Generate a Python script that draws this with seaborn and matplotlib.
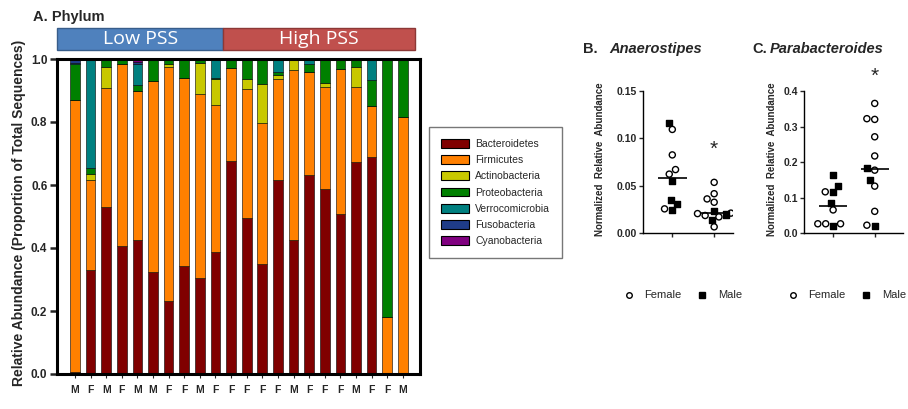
import numpy as np
import pandas as pd
import seaborn as sns
import matplotlib.pyplot as plt
from matplotlib.patches import Patch, Rectangle
from matplotlib.lines import Line2D
from matplotlib.markers import MarkerStyle
from matplotlib import transforms

# ---- panel A: phylum composition per sample ----
sex = ['M', 'F', 'M', 'F', 'M', 'M', 'F', 'F', 'M', 'F',
       'F', 'F', 'F', 'F', 'M', 'F', 'F', 'F', 'M', 'F', 'F', 'M']
pss = ['Low PSS'] * 10 + ['High PSS'] * 12

bacteroidetes = [0.005, 0.33, 0.53, 0.405, 0.425, 0.325, 0.233, 0.343, 0.305, 0.387,
                 0.675, 0.494, 0.349, 0.616, 0.425, 0.631, 0.586, 0.508, 0.674, 0.69, 0.0, 0.0]
firmicutes = [0.865, 0.285, 0.377, 0.58, 0.475, 0.605, 0.742, 0.597, 0.585, 0.468,
              0.296, 0.41, 0.448, 0.322, 0.541, 0.329, 0.326, 0.46, 0.237, 0.16, 0.182, 0.815]
actinobacteria = [0.0, 0.02, 0.068, 0.0, 0.0, 0.0, 0.008, 0.0, 0.097, 0.08,
                  0.0, 0.032, 0.123, 0.012, 0.034, 0.0, 0.013, 0.0, 0.064, 0.0, 0.0, 0.0]
proteobacteria = [0.115, 0.02, 0.025, 0.015, 0.018, 0.07, 0.017, 0.06, 0.013, 0.005,
                  0.029, 0.064, 0.08, 0.01, 0.0, 0.023, 0.075, 0.032, 0.025, 0.083, 0.818, 0.185]
verrucomicrobia = [0.003, 0.345, 0.0, 0.0, 0.067, 0.0, 0.0, 0.0, 0.0, 0.06,
                   0.0, 0.0, 0.0, 0.04, 0.0, 0.017, 0.0, 0.0, 0.0, 0.067, 0.0, 0.0]
fusobacteria = [0.012, 0.0, 0.0, 0.0, 0.005, 0.0, 0.0, 0.0, 0.0, 0.0,
                0.0, 0.0, 0.0, 0.0, 0.0, 0.0, 0.0, 0.0, 0.0, 0.0, 0.0, 0.0]
cyanobacteria = [0.0, 0.0, 0.0, 0.0, 0.01, 0.0, 0.0, 0.0, 0.0, 0.0,
                 0.0, 0.0, 0.0, 0.0, 0.0, 0.0, 0.0, 0.0, 0.0, 0.0, 0.0, 0.0]

phyla = ['Bacteroidetes', 'Firmicutes', 'Actinobacteria', 'Proteobacteria',
         'Verrocomicrobia', 'Fusobacteria', 'Cyanobacteria']
phylum_colors = ['#800000', '#FF8000', '#C8C800', '#008000', '#008080', '#1F3C88', '#800080']

# ---- panels B and C: genus abundance by PSS group ----
anaero_low = [0.1164, 0.1094, 0.0825, 0.067, 0.0622, 0.0549, 0.035, 0.0304, 0.0255, 0.0241]
anaero_low_sex = ['Male', 'Female', 'Female', 'Female', 'Female', 'Male', 'Male', 'Male', 'Female', 'Male']
anaero_high = [0.0535, 0.0415, 0.036, 0.0325, 0.0235, 0.021, 0.0205, 0.0195, 0.0185, 0.014, 0.017, 0.0065]
anaero_high_sex = ['Female', 'Female', 'Female', 'Female', 'Male', 'Female', 'Female', 'Male', 'Female', 'Male', 'Female', 'Female']

parab_low = [0.163, 0.132, 0.116, 0.116, 0.085, 0.065, 0.026, 0.026, 0.026, 0.019]
parab_low_sex = ['Male', 'Male', 'Male', 'Female', 'Male', 'Female', 'Female', 'Female', 'Female', 'Male']
parab_high = [0.365, 0.32, 0.322, 0.271, 0.217, 0.177, 0.184, 0.149, 0.132, 0.061, 0.022, 0.020]
parab_high_sex = ['Female', 'Female', 'Female', 'Female', 'Female', 'Female', 'Male', 'Male', 'Female', 'Female', 'Female', 'Male']

sns.set_theme(style='ticks')
plt.rcParams['font.family'] = ['Liberation Sans', 'DejaVu Sans']

fig = plt.figure(figsize=(9.08, 4.09), dpi=100)

# ---------------- Panel A ----------------
ax = fig.add_axes([57 / 908, 35 / 409, 363 / 908, 315 / 409])
rows = []
for name, vals in zip(phyla, [bacteroidetes, firmicutes, actinobacteria, proteobacteria,
                              verrucomicrobia, fusobacteria, cyanobacteria]):
    for i, v in enumerate(vals):
        rows.append((i, name, v))
df = pd.DataFrame(rows, columns=['sample', 'phylum', 'abund'])
sns.histplot(data=df, x='sample', weights='abund', hue='phylum', hue_order=phyla[::-1],
             palette=dict(zip(phyla, phylum_colors)), multiple='stack', discrete=True,
             shrink=0.62, edgecolor='black', linewidth=0.4, alpha=1, legend=False, ax=ax)
n = len(sex)
ax.set_xlim(-1.15, n + 0.1)
ax.set_ylim(0, 1)
ax.set_yticks([0, 0.2, 0.4, 0.6, 0.8, 1.0])
ax.set_yticklabels(['0.0', '0.2', '0.4', '0.6', '0.8', '1.0'])
ax.set_xticks(range(n))
ax.set_xticklabels(sex)
ax.set_xlabel('')
ax.set_ylabel('Relative Abundance (Proportion of Total Sequences)', fontsize=10, fontweight='bold')
ax.yaxis.set_label_coords(-0.085, 0.51)
for s in ax.spines.values():
    s.set_linewidth(2.2)
    s.set_color('black')
ax.tick_params(axis='y', length=5, width=1.8, labelsize=8.5, pad=2)
ax.tick_params(axis='x', length=3, width=0.8, labelsize=7.5, pad=5)
plt.setp(ax.get_yticklabels(), fontweight='bold')
plt.setp(ax.get_xticklabels(), fontweight='bold')

# PSS header boxes
trans = transforms.blended_transform_factory(ax.transData, ax.transAxes)
n_low = pss.count('Low PSS')
headers = [('Low PSS', -1.15, n_low - 0.5, '#4F81BD', '#385D8A'),
           ('High PSS', n_low - 0.5, n - 0.23, '#C0504D', '#8C3836')]
for label, x0, x1, fc, ec in headers:
    ax.add_patch(Rectangle((x0, 1.029), x1 - x0, 0.069, transform=trans, clip_on=False,
                           facecolor=fc, edgecolor=ec, linewidth=1))
    ax.text((x0 + x1) / 2, 1.063, label, transform=trans, ha='center', va='center',
            color='white', fontsize=14, family=['Open Sans', 'DejaVu Sans'])

fig.text(33 / 908, 0.958, 'A. Phylum', fontsize=10.5, fontweight='bold', va='center')

handles = [Patch(facecolor=c, edgecolor='black', linewidth=0.8, label=p)
           for p, c in zip(phyla, phylum_colors)]
fig.legend(handles=handles, loc='center', bbox_to_anchor=(0.5457, 0.529), frameon=True,
           fancybox=False, edgecolor='#555555', fontsize=7.5, handlelength=2.7,
           handleheight=0.9, labelspacing=0.6, borderpad=1.1, handletextpad=0.6)


# ---------------- Panels B and C ----------------
circ = MarkerStyle('o')
sq = MarkerStyle('s')
circ_path = circ.get_path().transformed(circ.get_transform())
sq_path = sq.get_path().transformed(sq.get_transform())


def scatter_panel(ax, low, low_sex, high, high_sex, ymax, yticks, fmt, star_y, xright, ylx, legx):
    d = pd.DataFrame({'group': ['Low'] * len(low) + ['High'] * len(high),
                      'value': low + high, 'sex': low_sex + high_sex})
    sns.swarmplot(data=d, x='group', y='value', hue='sex', order=['Low', 'High'],
                  hue_order=['Female', 'Male'], palette={'Female': 'white', 'Male': 'black'},
                  size=4.4, edgecolor='black', linewidth=1, legend=False, ax=ax)
    for coll in ax.collections:
        fc = coll.get_facecolors()
        coll.set_paths([circ_path if f[0] > 0.5 else sq_path for f in fc])
    for i, vals in enumerate([low, high]):
        ax.hlines(np.median(vals), i - 0.34, i + 0.34, color='black', lw=1.2, zorder=5)
    ax.text(1, star_y, '*', ha='center', va='center', fontsize=15, clip_on=False)
    ax.set_xlim(-0.7, xright)
    ax.set_ylim(0, ymax)
    ax.set_yticks(yticks)
    ax.set_yticklabels([fmt.format(t) for t in yticks])
    ax.set_xticks([0, 1])
    ax.set_xticklabels(['', ''])
    ax.set_xlabel('')
    ax.set_ylabel('Normalized  Relative  Abundance', fontsize=7, fontweight='bold')
    ax.yaxis.set_label_coords(ylx, 0.52)
    sns.despine(ax=ax)
    for s in ['left', 'bottom']:
        ax.spines[s].set_linewidth(1)
        ax.spines[s].set_color('black')
    ax.tick_params(length=3, width=1, labelsize=7.5, pad=1.5)
    plt.setp(ax.get_yticklabels(), fontweight='bold')
    leg_handles = [Line2D([], [], marker='o', ls='', markerfacecolor='white', markeredgecolor='black',
                          markeredgewidth=1, markersize=4, label='Female'),
                   Line2D([], [], marker='s', ls='', markerfacecolor='black', markeredgecolor='black',
                          markersize=4, label='Male')]
    ax.legend(handles=leg_handles, loc='center', bbox_to_anchor=(legx, -0.44), ncol=2,
              frameon=False, fontsize=8, handlelength=1.0, handletextpad=0.9, columnspacing=1.4)


axB = fig.add_axes([643 / 908, 176 / 409, 90 / 908, 142 / 409])
scatter_panel(axB, anaero_low, anaero_low_sex, anaero_high, anaero_high_sex,
              0.15, [0, 0.05, 0.10, 0.15], '{:.2f}', 0.088, 1.45, -0.42, 0.44)
axC = fig.add_axes([804 / 908, 176 / 409, 99 / 908, 142 / 409])
scatter_panel(axC, parab_low, parab_low_sex, parab_high, parab_high_sex,
              0.4, [0, 0.1, 0.2, 0.3, 0.4], '{:.1f}', 0.44, 1.68, -0.27, 0.43)

fig.text(583 / 908, 0.880, 'B.', fontsize=10.5, fontweight='bold', va='center')
fig.text(609 / 908, 0.880, 'Anaerostipes', fontsize=10.5, fontweight='bold', style='italic', va='center')
fig.text(752 / 908, 0.880, 'C.', fontsize=10.5, fontweight='bold', va='center')
fig.text(770 / 908, 0.880, 'Parabacteroides', fontsize=10.5, fontweight='bold', style='italic', va='center')

fig.savefig('out.png', dpi=100)
